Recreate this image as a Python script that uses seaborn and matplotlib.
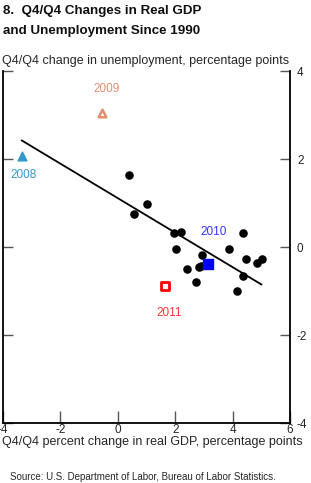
import numpy as np
import pandas as pd
import matplotlib
matplotlib.use("Agg")
import matplotlib.pyplot as plt
import seaborn as sns

# Q4/Q4 real GDP growth vs change in unemployment, 1990-2007
gdp_growth = [0.40, 1.00, 0.55, 1.95, 2.21, 2.03, 2.93, 2.82, 2.90, 2.40,
              2.72, 3.88, 4.35, 4.46, 4.84, 5.01, 4.37, 4.17]
unemp_change = [1.63, 0.98, 0.75, 0.31, 0.34, -0.05, -0.18, -0.45, -0.44, -0.51,
                -0.80, -0.04, 0.31, -0.28, -0.37, -0.27, -0.65, -1.01]

# highlighted years
years = ["2008", "2009", "2010", "2011"]
year_gdp = [-3.35, -0.56, 3.16, 1.65]
year_unemp = [2.07, 3.05, -0.39, -0.88]
year_colors = ["#3399cc", "#e0906f", "#0000ff", "#ff0000"]
year_label_colors = ["#3399cc", "#e0906f", "#3333ff", "#ff3333"]

# fitted line: y = a + b*x
fit_a, fit_b = 1.11, -0.392
fit_x = [-3.35, 5.01]

x_ticks = [-4, -2, 0, 2, 4, 6]
y_ticks = [-4, -2, 0, 2, 4]

sns.set_style("ticks")
plt.rcParams["font.family"] = ["Liberation Sans", "DejaVu Sans"]
plt.rcParams["axes.unicode_minus"] = False

fig = plt.figure(figsize=(3.11, 4.83), dpi=100)
ax = fig.add_axes([3 / 311, 1 - 423 / 483, (290 - 3) / 311, (423 - 71) / 483])

df = pd.DataFrame({"gdp": gdp_growth, "unemp": unemp_change})
sns.scatterplot(data=df, x="gdp", y="unemp", ax=ax, color="black", s=38,
                edgecolor="black", linewidth=0, zorder=3)

line_df = pd.DataFrame({"x": fit_x, "y": [fit_a + fit_b * v for v in fit_x]})
sns.lineplot(data=line_df, x="x", y="y", ax=ax, color="black", linewidth=1.3, zorder=2)

# highlighted years
ax.scatter(year_gdp[0], year_unemp[0], marker="^", s=40, color=year_colors[0], zorder=4)
ax.scatter(year_gdp[1], year_unemp[1], marker="^", s=30, facecolor="white",
           edgecolor=year_colors[1], linewidth=1.8, zorder=4)
ax.scatter(year_gdp[2], year_unemp[2], marker="s", s=55, color=year_colors[2], zorder=4)
ax.scatter(year_gdp[3], year_unemp[3], marker="s", s=38, facecolor="white",
           edgecolor=year_colors[3], linewidth=2.0, zorder=4)

label_pos = [(-3.3, 1.63), (-0.4, 3.58), (3.35, 0.33), (1.8, -1.5)]
for yr, (lx, ly), c in zip(years, label_pos, year_label_colors):
    ax.text(lx, ly, yr, color=c, fontsize=8.5, ha="center", va="center")

ax.set_xlim(-4, 6)
ax.set_ylim(-4, 4)
ax.set_xticks(x_ticks)
ax.set_yticks(y_ticks)
ax.set_xticklabels([str(v) for v in x_ticks])
ax.set_yticklabels([str(v) for v in y_ticks])
ax.tick_params(axis="x", direction="in", length=9, width=1, pad=1, labelsize=8.5,
               color="#555555")
ax.tick_params(axis="y", direction="in", length=7, width=1, left=True, right=True,
               labelleft=False, labelright=True, pad=5, labelsize=8.5, color="#555555")
ax.spines["top"].set_visible(False)
for s in ["left", "right", "bottom"]:
    ax.spines[s].set_linewidth(1.3)
    ax.spines[s].set_color("black")
ax.set_xlabel("")
ax.set_ylabel("")

fig.text(2 / 311, 1 - 61 / 483, "Q4/Q4 change in unemployment, percentage points",
         fontsize=9, va="center", ha="left")
fig.text(2 / 311, 1 - 442 / 483, "Q4/Q4 percent change in real GDP, percentage points",
         fontsize=9, va="center", ha="left")
fig.text(10 / 311, 1 - 477 / 483, "Source: U.S. Department of Labor, Bureau of Labor Statistics.",
         fontsize=7, va="center", ha="left")
fig.text(3 / 311, 1 - 21 / 483, "8.  Q4/Q4 Changes in Real GDP\nand Unemployment Since 1990",
         fontsize=9.6, fontweight="bold", va="center", ha="left", linespacing=1.95,
         color="#111111")

fig.savefig("out.png", dpi=100)
